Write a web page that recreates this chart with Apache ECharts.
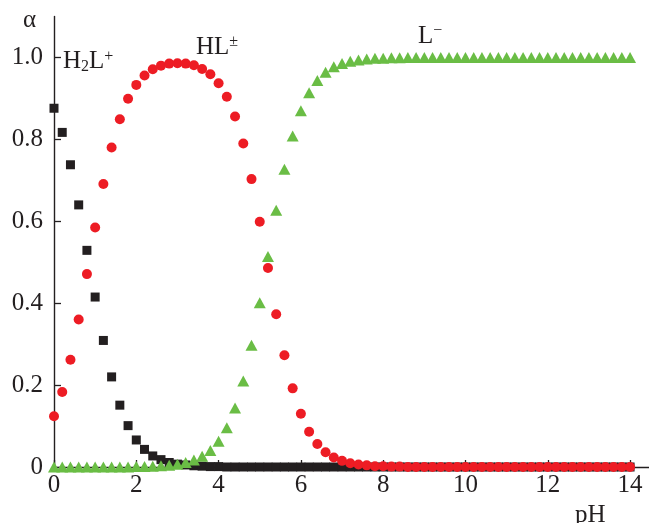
<!DOCTYPE html>
<html>
<head>
<meta charset="utf-8">
<script src="https://cdn.jsdelivr.net/npm/echarts@6/dist/echarts.min.js"></script>
<style>
  html, body { margin: 0; padding: 0; background: #fff; }
  #chart { width: 649px; height: 523px; }
</style>
</head>
<body>
<div id="chart"></div>
<script>
// pH grid, step 0.2
var pH = [0, 0.2, 0.4, 0.6, 0.8, 1, 1.2, 1.4, 1.6, 1.8,
  2, 2.2, 2.4, 2.6, 2.8, 3, 3.2, 3.4, 3.6, 3.8,
  4, 4.2, 4.4, 4.6, 4.8, 5, 5.2, 5.4, 5.6, 5.8,
  6, 6.2, 6.4, 6.6, 6.8, 7, 7.2, 7.4, 7.6, 7.8,
  8, 8.2, 8.4, 8.6, 8.8, 9, 9.2, 9.4, 9.6, 9.8,
  10, 10.2, 10.4, 10.6, 10.8, 11, 11.2, 11.4, 11.6, 11.8,
  12, 12.2, 12.4, 12.6, 12.8, 13, 13.2, 13.4, 13.6, 13.8, 14];

// H2L+ fraction
var h2l = [0.876, 0.817, 0.738, 0.640, 0.529, 0.415, 0.309, 0.220, 0.151, 0.101,
  0.066, 0.043, 0.027, 0.018, 0.011, 0.007, 0.005, 0.003, 0.002, 0.001,
  0.001, 0, 0, 0, 0, 0, 0, 0, 0, 0,
  0, 0, 0, 0, 0, 0, 0, 0, 0, 0,
  0, 0, 0, 0, 0, 0, 0, 0, 0, 0,
  0, 0, 0, 0, 0, 0, 0, 0, 0, 0,
  0, 0, 0, 0, 0, 0, 0, 0, 0, 0, 0];

// HL± fraction
var hl = [0.124, 0.183, 0.262, 0.360, 0.471, 0.585, 0.691, 0.780, 0.849, 0.899,
  0.933, 0.956, 0.971, 0.980, 0.985, 0.986, 0.985, 0.981, 0.972, 0.959,
  0.937, 0.904, 0.856, 0.790, 0.703, 0.599, 0.486, 0.373, 0.273, 0.192,
  0.130, 0.086, 0.056, 0.036, 0.023, 0.015, 0.009, 0.006, 0.004, 0.002,
  0.002, 0.001, 0.001, 0, 0, 0, 0, 0, 0, 0,
  0, 0, 0, 0, 0, 0, 0, 0, 0, 0,
  0, 0, 0, 0, 0, 0, 0, 0, 0, 0, 0];

// L- fraction
var lMinus = [0, 0, 0, 0, 0, 0, 0, 0, 0, 0,
  0.001, 0.001, 0.002, 0.003, 0.004, 0.007, 0.011, 0.017, 0.026, 0.040,
  0.063, 0.096, 0.144, 0.210, 0.297, 0.401, 0.514, 0.627, 0.727, 0.808,
  0.870, 0.914, 0.944, 0.964, 0.977, 0.985, 0.991, 0.994, 0.996, 0.998,
  0.998, 0.999, 0.999, 1, 1, 1, 1, 1, 1, 1,
  1, 1, 1, 1, 1, 1, 1, 1, 1, 1,
  1, 1, 1, 1, 1, 1, 1, 1, 1, 1, 1];

var xTicks = [0, 2, 4, 6, 8, 10, 12, 14];
var yTicks = [0, 0.2, 0.4, 0.6, 0.8, 1.0];

var ink = '#231f20';
var serif = '"Liberation Serif", "Times New Roman", serif';

function pairs(ys) {
  return pH.map(function (x, i) { return [x, ys[i]]; });
}

var rich = {
  n: { fontFamily: serif, fontSize: 25, lineHeight: 26, color: ink },
  sub: { fontFamily: serif, fontSize: 16, lineHeight: 12, verticalAlign: 'bottom', color: ink },
  sup: { fontFamily: serif, fontSize: 16, lineHeight: 12, verticalAlign: 'top', color: ink }
};

function label(x, y, text) {
  return {
    type: 'text',
    style: {
      x: x, y: y, text: text, rich: rich,
      font: '25px ' + serif, fill: ink,
      textAlign: 'left', textVerticalAlign: 'middle'
    }
  };
}

var chart = echarts.init(document.getElementById('chart'));

chart.setOption({
  animation: false,
  backgroundColor: '#fff',
  grid: { left: 54, right: 0, top: 16.5, bottom: 56 },
  xAxis: {
    type: 'value',
    min: 0,
    max: 14.46,
    splitLine: { show: false },
    axisLine: { lineStyle: { color: ink, width: 1.4 } },
    axisTick: { inside: true, length: 7, customValues: xTicks, lineStyle: { color: ink, width: 1.3 } },
    axisLabel: {
      customValues: xTicks,
      fontFamily: serif, fontSize: 25, color: ink, margin: 6
    }
  },
  yAxis: {
    type: 'value',
    min: 0,
    max: 1.1,
    splitLine: { show: false },
    axisLine: { show: true, lineStyle: { color: ink, width: 1.4 } },
    axisTick: { show: true, inside: true, length: 7, customValues: yTicks, lineStyle: { color: ink, width: 1.3 } },
    axisLabel: {
      customValues: yTicks,
      fontFamily: serif, fontSize: 25, color: ink, margin: 11,
      formatter: function (v) { return v === 0 ? '0' : v.toFixed(1); }
    }
  },
  series: [
    {
      name: 'H2L+', type: 'scatter', data: pairs(h2l),
      symbol: 'rect', symbolSize: 9,
      itemStyle: { color: ink, opacity: 1 }
    },
    {
      name: 'L-', type: 'scatter', data: pairs(lMinus),
      symbol: 'triangle', symbolSize: [12, 11],
      itemStyle: { color: '#6abd45', opacity: 1 }
    },
    {
      name: 'HL', type: 'scatter', data: pairs(hl),
      symbol: 'circle', symbolSize: 10,
      itemStyle: { color: '#ed1c24', opacity: 1 }
    }
  ],
  graphic: [
    label(23, 20, '{n|α}'),
    label(63, 61.5, '{n|H}{sub|2}{n|L}{sup|+}'),
    label(196, 47, '{n|HL}{sup|±}'),
    label(418, 36, '{n|L}{sup|−}'),
    label(575, 515.5, '{n|pH}')
  ]
});
</script>
</body>
</html>
